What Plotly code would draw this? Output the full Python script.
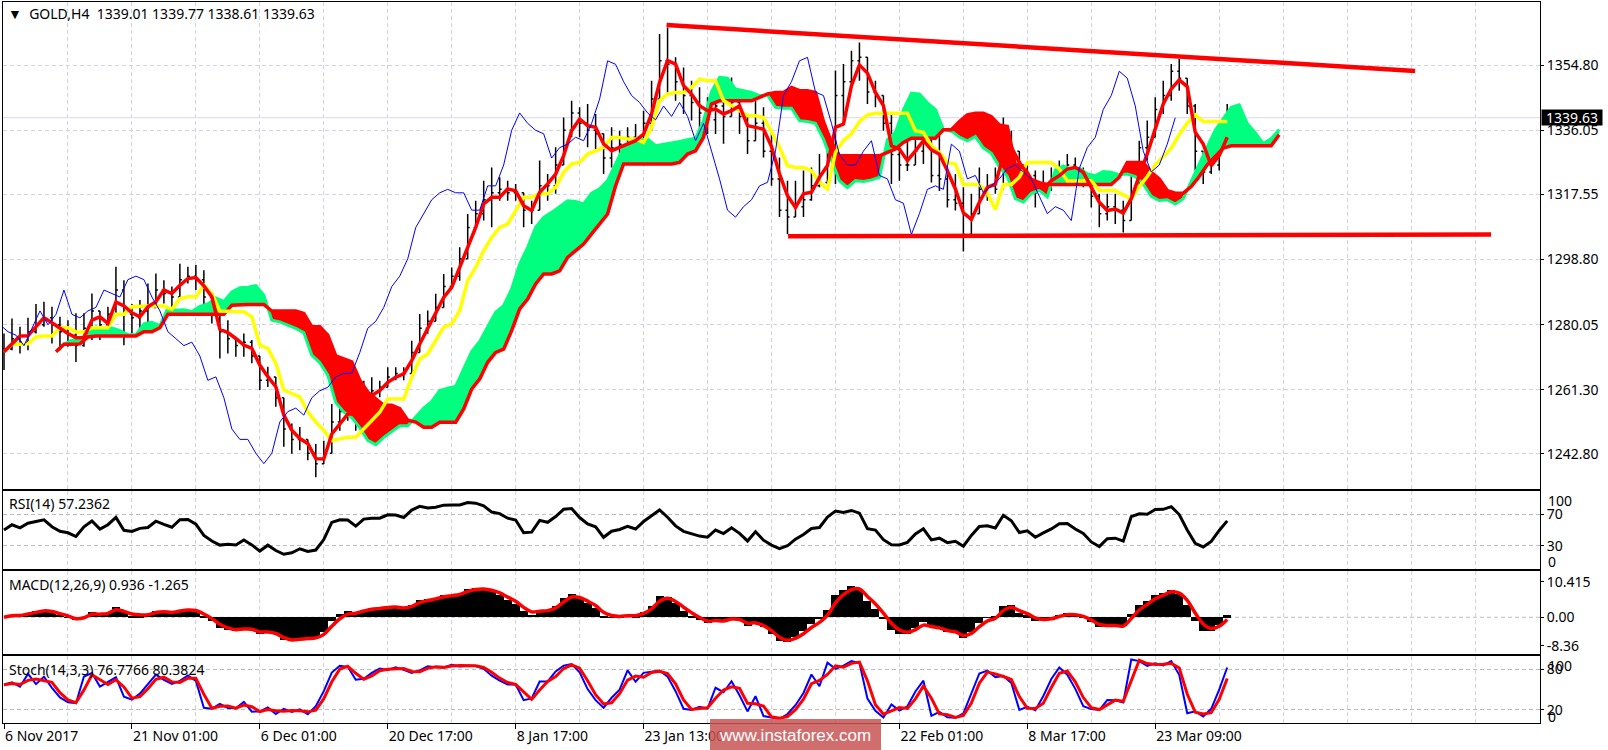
import numpy as np
import pandas as pd
import plotly.graph_objects as go

# ---------------- data (each point = block of 4 H4 bars, position = first H4 bar index) -------------
highs = [1277.5,1281.8,1279.4,1282.0,1286.0,1286.6,1285.2,1282.3,1281.3,1283.3,
1283.3,1289.0,1283.3,1285.2,1296.7,1292.8,1286.0,1287.1,1291.9,1294.8,
1292.8,1291.0,1297.6,1296.7,1297.2,1295.7,1287.1,1285.2,1281.3,1276.5,
1277.5,1275.6,1268.9,1267.9,1263.1,1256.4,1251.6,1250.6,1246.8,1245.7,
1246.6,1257.2,1258.2,1259.1,1257.2,1263.9,1264.9,1263.9,1267.8,1267.8,
1267.8,1275.4,1283.1,1284.1,1288.9,1294.6,1296.5,1302.3,1311.9,1315.7,
1321.5,1325.3,1322.5,1321.5,1320.5,1317.7,1315.7,1327.3,1323.4,1331.1,
1339.7,1344.5,1342.6,1343.6,1340.7,1334.0,1336.9,1335.9,1336.9,1337.8,
1341.6,1350.3,1363.7,1365.6,1357.0,1354.1,1350.3,1348.4,1345.5,1349.3,
1347.4,1351.2,1345.5,1340.7,1344.5,1342.6,1335.9,1328.2,1321.5,1321.5,
1324.4,1325.3,1329.2,1332.1,1353.2,1355.1,1358.9,1361.3,1351.2,1350.3,
1342.6,1340.7,1332.1,1333.0,1335.9,1339.7,1339.7,1334.9,1325.3,1323.4,
1319.6,1317.7,1325.3,1323.4,1325.3,1339.7,1335.9,1329.2,1326.3,1324.4,
1324.4,1325.3,1327.3,1329.2,1328.2,1325.3,1322.5,1317.7,1317.7,1317.7,
1315.7,1326.0,1333.0,1338.8,1345.5,1350.3,1355.1,1356.5,1346.5,1343.6,
1328.2,1331.1,1334.0,1343.6]

lows = [1267.0,1272.7,1271.7,1272.7,1277.5,1279.4,1274.6,1272.7,1273.7,1269.3,
1273.7,1275.6,1275.6,1276.5,1285.2,1274.1,1277.5,1278.5,1278.5,1285.2,
1286.1,1285.2,1289.0,1291.9,1290.0,1285.2,1280.4,1270.3,1271.7,1270.8,
1270.8,1268.9,1261.2,1262.1,1256.4,1244.9,1242.9,1243.9,1241.0,1236.1,
1239.9,1244.7,1249.5,1252.4,1249.5,1254.3,1257.2,1259.1,1262.0,1264.0,
1264.0,1265.8,1273.5,1277.4,1281.2,1285.0,1290.8,1292.7,1300.4,1308.1,
1310.0,1308.1,1315.7,1315.7,1315.7,1308.1,1309.0,1313.8,1315.7,1317.7,
1327.3,1334.0,1334.0,1331.1,1330.1,1323.4,1325.3,1327.3,1329.2,1328.2,
1331.1,1335.9,1348.4,1346.5,1344.5,1340.7,1338.8,1335.9,1334.9,1334.9,
1332.1,1341.6,1334.9,1329.2,1334.0,1328.2,1320.0,1311.0,1306.1,1311.9,
1311.0,1315.7,1319.6,1320.5,1320.5,1338.8,1348.4,1350.3,1343.6,1342.6,
1335.9,1320.5,1321.5,1324.3,1327.3,1326.3,1321.0,1318.5,1313.8,1312.9,
1301.1,1305.3,1313.8,1315.7,1317.7,1322.5,1325.3,1317.7,1319.6,1313.8,
1317.7,1318.6,1320.5,1321.5,1321.5,1319.6,1313.8,1308.1,1310.0,1309.0,
1306.6,1312.9,1319.6,1327.3,1336.9,1340.7,1344.5,1347.4,1340.7,1324.4,
1320.5,1323.4,1324.4,1336.0]

closes = [1273.0,1276.0,1275.0,1278.0,1280.0,1282.0,1280.0,1278.0,1277.0,1274.0,
1279.0,1284.0,1280.0,1283.0,1290.0,1283.0,1282.0,1284.0,1285.0,1290.0,
1289.0,1288.0,1293.0,1294.0,1293.0,1288.0,1284.0,1278.0,1276.0,1274.0,
1275.0,1271.0,1264.0,1265.0,1259.0,1250.0,1247.0,1247.0,1243.0,1240.0,
1243.0,1252.0,1255.0,1256.0,1254.0,1259.0,1261.0,1262.0,1265.0,1266.0,
1266.0,1272.0,1279.0,1281.0,1285.0,1291.0,1294.0,1299.0,1308.0,1312.0,
1316.0,1318.0,1319.0,1318.0,1318.0,1313.0,1313.0,1320.0,1320.0,1326.0,
1336.0,1341.0,1338.0,1336.0,1335.0,1328.0,1331.0,1332.0,1334.0,1333.0,
1338.0,1345.0,1356.0,1355.0,1350.0,1346.0,1344.0,1341.0,1339.0,1343.0,
1340.0,1344.0,1340.0,1333.0,1338.0,1330.0,1322.0,1313.0,1311.0,1314.0,
1316.0,1320.0,1321.0,1330.0,1346.0,1350.0,1356.0,1357.0,1347.0,1346.0,
1338.0,1329.0,1326.0,1326.0,1330.0,1333.0,1323.0,1322.0,1316.0,1315.0,
1306.0,1312.0,1319.0,1320.0,1319.0,1332.0,1330.0,1322.0,1323.0,1318.0,
1320.0,1322.0,1325.0,1326.0,1324.0,1322.0,1317.0,1312.0,1314.0,1313.0,
1310.0,1325.0,1331.0,1334.0,1342.0,1346.0,1353.0,1351.0,1343.0,1330.0,
1324.0,1326.0,1332.0,1339.63]

BLOCK = 4  # H4 bars per data point
bars = [BLOCK * k for k in range(len(closes))]

price_ticks = [1354.80, 1336.05, 1317.55, 1298.80, 1280.05, 1261.30, 1242.80]
date_tick_bars = [0, 64, 128, 192, 256, 320, 448, 512, 576]
date_tick_labels = ["6 Nov 2017", "21 Nov 01:00", "6 Dec 01:00", "20 Dec 17:00", "8 Jan 17:00",
                    "23 Jan 13:00", "22 Feb 01:00", "8 Mar 17:00", "23 Mar 09:00"]
grid_bars = list(range(0, 769, 32))

# hand-drawn trend lines (bar, price)
upper_line_bars = [331.5, 706.0]
upper_line_prices = [1366.3, 1353.1]
lower_line_bars = [392.3, 744.0]
lower_line_prices = [1305.5, 1306.0]

last_price = 1339.63
title_text = "▼  GOLD,H4  1339.01 1339.77 1338.61 1339.63"
rsi_text = "RSI(14) 57.2362"
macd_text = "MACD(12,26,9) 0.936 -1.265"
stoch_text = "Stoch(14,3,3) 76.7766 80.3824"
macd_ticks = [10.415, 0.0, -8.36]
macd_tick_text = ["10.415", "0.00", "-8.36"]

# ---------------- indicators derived from the price data -------------
H = pd.Series(highs); L = pd.Series(lows); C = pd.Series(closes)
O = C.shift(1).fillna(C.iloc[0])
Hd = pd.concat([H, O, C], axis=1).max(axis=1)
Ld = pd.concat([L, O, C], axis=1).min(axis=1)

def midline(w):
    return (H.rolling(w, min_periods=1).max() + L.rolling(w, min_periods=1).min()) / 2

tenkan = midline(2)
kijun = midline(7)
spanA = (tenkan + kijun) / 2
spanB = midline(13)
SHIFT = 26

x = np.array(bars, dtype=float)
xs = x + SHIFT

# RSI: gains/losses along the intrablock path (net move + part of the excursion)
delta = C - O
excursion = ((Hd - Ld) - delta.abs()).clip(lower=0)
W_EXC = 0.3
gain = delta.clip(lower=0) + W_EXC * excursion
loss = (-delta).clip(lower=0) + W_EXC * excursion
au = gain.ewm(alpha=BLOCK / 14, adjust=False).mean()
ad = loss.ewm(alpha=BLOCK / 14, adjust=False).mean()
rsi = (100 * au / (au + ad)).fillna(50)

ema_f = C.ewm(alpha=2 / (12 / BLOCK + 1), adjust=False).mean()
ema_s = C.ewm(alpha=2 / (26 / BLOCK + 1), adjust=False).mean()
macd = ema_f - ema_s
signal = macd.ewm(alpha=2 / (9 / BLOCK + 1), adjust=False).mean()

ll = L.rolling(4, min_periods=1).min(); hh = H.rolling(4, min_periods=1).max()
stk = (100 * (C - ll) / (hh - ll)).fillna(50)
std = stk.rolling(2, min_periods=1).mean()

# ---------------- figure -------------
FONT = "Noto Sans"
GRID = "#D2D2EA"
LEVEL = "#BEBEBE"
DASH = "4px,3px"
GREEN = "#00FF7F"

W, HGT = 1608, 750
ML, MR, MT, MB = 3, 68, 2, 27
PB = HGT - MB
PH = HGT - MT - MB

def fy(ypx):
    return (PB - ypx) / PH

def fx(xpx):
    return (xpx - ML) / (W - ML - MR)

fig = go.Figure()

# cloud
a = spanA.values; b = spanB.values
segs = []
cx, ca, cb = [xs[0]], [a[0]], [b[0]]
cup = a[0] >= b[0]
for i in range(1, len(a)):
    up = a[i] >= b[i]
    if up != cup:
        d0 = a[i - 1] - b[i - 1]; d1 = a[i] - b[i]
        t = d0 / (d0 - d1)
        xc = xs[i - 1] + t * (xs[i] - xs[i - 1]); yc = a[i - 1] + t * (a[i] - a[i - 1])
        cx.append(xc); ca.append(yc); cb.append(yc)
        segs.append((cup, cx, ca, cb))
        cx, ca, cb = [xc], [yc], [yc]
        cup = up
    cx.append(xs[i]); ca.append(a[i]); cb.append(b[i])
segs.append((cup, cx, ca, cb))
for up, sx, sa, sb in segs:
    fig.add_trace(go.Scatter(x=list(sx) + list(sx)[::-1], y=list(sa) + list(sb)[::-1],
                             fill="toself", fillcolor=GREEN if up else "#FF0000",
                             line=dict(width=0), mode="lines", hoverinfo="skip",
                             xaxis="x", yaxis="y"))

fig.add_trace(go.Scatter(x=xs, y=spanA, mode="lines", line=dict(color=GREEN, width=3),
                         xaxis="x", yaxis="y"))
fig.add_trace(go.Scatter(x=xs, y=spanB, mode="lines", line=dict(color="#FF0000", width=3.5),
                         xaxis="x", yaxis="y"))

fig.add_trace(go.Ohlc(x=x, open=O, high=Hd, low=Ld, close=C,
                      increasing=dict(line=dict(color="black", width=1.5)),
                      decreasing=dict(line=dict(color="black", width=1.5)),
                      tickwidth=0.25, xaxis="x", yaxis="y"))

fig.add_trace(go.Scatter(x=x, y=kijun, mode="lines", line=dict(color="#FFFF00", width=3.5),
                         xaxis="x", yaxis="y"))
fig.add_trace(go.Scatter(x=x, y=tenkan, mode="lines", line=dict(color="#FF0000", width=3.5),
                         xaxis="x", yaxis="y"))
fig.add_trace(go.Scatter(x=x - SHIFT, y=C, mode="lines", line=dict(color="#0000FF", width=1),
                         xaxis="x", yaxis="y"))

fig.add_trace(go.Scatter(x=upper_line_bars, y=upper_line_prices, mode="lines",
                         line=dict(color="#FF0000", width=4.5), xaxis="x", yaxis="y"))
fig.add_trace(go.Scatter(x=lower_line_bars, y=lower_line_prices, mode="lines",
                         line=dict(color="#FF0000", width=4.5), xaxis="x", yaxis="y"))

# RSI
fig.add_trace(go.Scatter(x=x, y=rsi, mode="lines", line=dict(color="black", width=3),
                         xaxis="x2", yaxis="y2"))
# MACD
fig.add_trace(go.Bar(x=x, y=macd, width=BLOCK, marker=dict(color="black", line=dict(width=0)),
                     xaxis="x3", yaxis="y3"))
fig.add_trace(go.Scatter(x=x, y=signal, mode="lines", line=dict(color="#FF0000", width=3.5, shape="spline"),
                         xaxis="x3", yaxis="y3"))
# Stoch
fig.add_trace(go.Scatter(x=x, y=stk, mode="lines", line=dict(color="#0000FF", width=2),
                         xaxis="x4", yaxis="y4"))
fig.add_trace(go.Scatter(x=x, y=std, mode="lines", line=dict(color="#FF0000", width=3),
                         xaxis="x4", yaxis="y4"))

tickfont = dict(family=FONT, size=14, color="black")

def xaxis_cfg(show_labels):
    d = dict(range=[-0.5, 768.5], showline=True, mirror=True, linecolor="black", linewidth=1,
             tickmode="array", tickvals=date_tick_bars, showgrid=True, gridcolor=GRID,
             griddash=DASH, gridwidth=1, zeroline=False, fixedrange=True,
             minor=dict(tickvals=grid_bars, showgrid=True, gridcolor=GRID, griddash=DASH, ticks=""),
             rangeslider=dict(visible=False))
    if show_labels:
        d.update(ticktext=date_tick_labels, showticklabels=True, ticks="outside", ticklen=5,
                 tickcolor="black", ticklabelposition="outside right", tickfont=tickfont)
    else:
        d.update(showticklabels=False, ticks="")
    return d

def yaxis_cfg(anchor, dom, rng, tv, tt, grid, gridcolor=GRID):
    return dict(anchor=anchor, domain=dom, range=rng, side="right", tickmode="array",
                tickvals=tv, ticktext=tt, ticks="outside", ticklen=3, tickcolor="black",
                showline=True, mirror=True, linecolor="black", linewidth=1,
                showgrid=grid, gridcolor=gridcolor, griddash=DASH, zeroline=False,
                tickfont=tickfont, fixedrange=True)

main_top = 1354.8 + (65 - 2) / 3.473
main_bot = 1354.8 - (489 - 65) / 3.473

fig.update_layout(
    width=W, height=HGT, margin=dict(l=ML, r=MR, t=MT, b=MB),
    paper_bgcolor="white", plot_bgcolor="white", showlegend=False, bargap=0,
    xaxis=dict(xaxis_cfg(False), anchor="y"),
    xaxis2=dict(xaxis_cfg(False), anchor="y2", matches="x"),
    xaxis3=dict(xaxis_cfg(False), anchor="y3", matches="x"),
    xaxis4=dict(xaxis_cfg(True), anchor="y4", matches="x"),
    yaxis=yaxis_cfg("x", [fy(489), 1.0], [main_bot, main_top], price_ticks,
                    [f"{v:.2f}" for v in price_ticks], True),
    yaxis2=yaxis_cfg("x2", [fy(569), fy(491)], [0, 100], [70, 30], ["70", "30"], True, LEVEL),
    yaxis3=yaxis_cfg("x3", [fy(654), fy(571)], [-10.83, 13.65], macd_ticks, macd_tick_text, False),
    yaxis4=yaxis_cfg("x4", [0, fy(656)], [0, 100], [80, 20], ["80", "20"], True, LEVEL),
)

shapes = [
    dict(type="line", xref="paper", x0=0, x1=1, yref="y", y0=last_price, y1=last_price,
         line=dict(color="#D8D8F0", width=1), layer="below"),
    dict(type="line", xref="paper", x0=0, x1=1, yref="y3", y0=0, y1=0,
         line=dict(color=LEVEL, width=1, dash=DASH), layer="below"),
    dict(type="rect", xref="paper", yref="paper", x0=fx(710), x1=fx(881), y0=fy(751), y1=fy(719),
         fillcolor="rgba(200,85,85,0.85)", line=dict(width=0), layer="above"),
]
fig.update_layout(shapes=shapes)

ann = [
    dict(text=title_text, x=fx(6), y=fy(14), xanchor="left", yanchor="middle"),
    dict(text=rsi_text, x=fx(7), y=fy(503), xanchor="left", yanchor="middle"),
    dict(text=macd_text, x=fx(7), y=fy(584), xanchor="left", yanchor="middle"),
    dict(text=stoch_text, x=fx(7), y=fy(669), xanchor="left", yanchor="middle"),
    dict(text="100", x=fx(1546), y=fy(500), xanchor="left", yanchor="middle"),
    dict(text="0", x=fx(1546), y=fy(561), xanchor="left", yanchor="middle"),
    dict(text="100", x=fx(1546), y=fy(665), xanchor="left", yanchor="middle"),
    dict(text="0", x=fx(1546), y=fy(716), xanchor="left", yanchor="middle"),
]
annotations = []
for d in ann:
    d.update(xref="paper", yref="paper", showarrow=False, font=tickfont)
    annotations.append(d)
annotations.append(dict(text="1339.63", xref="paper", x=1.0, xanchor="left", xshift=1,
                        yref="y", y=last_price, yanchor="middle", showarrow=False,
                        bgcolor="black", font=dict(family=FONT, size=14, color="white"),
                        width=60, height=15, borderpad=0))
annotations.append(dict(text="www.instaforex.com", xref="paper", yref="paper", x=fx(795), y=fy(735),
                        xanchor="center", yanchor="middle", showarrow=False,
                        font=dict(family="Liberation Sans", size=17, color="white")))
fig.update_layout(annotations=annotations)

fig.write_html("out.html", config={"displayModeBar": False},
               post_script="document.body.style.margin='0px';document.body.style.overflow='hidden';")
